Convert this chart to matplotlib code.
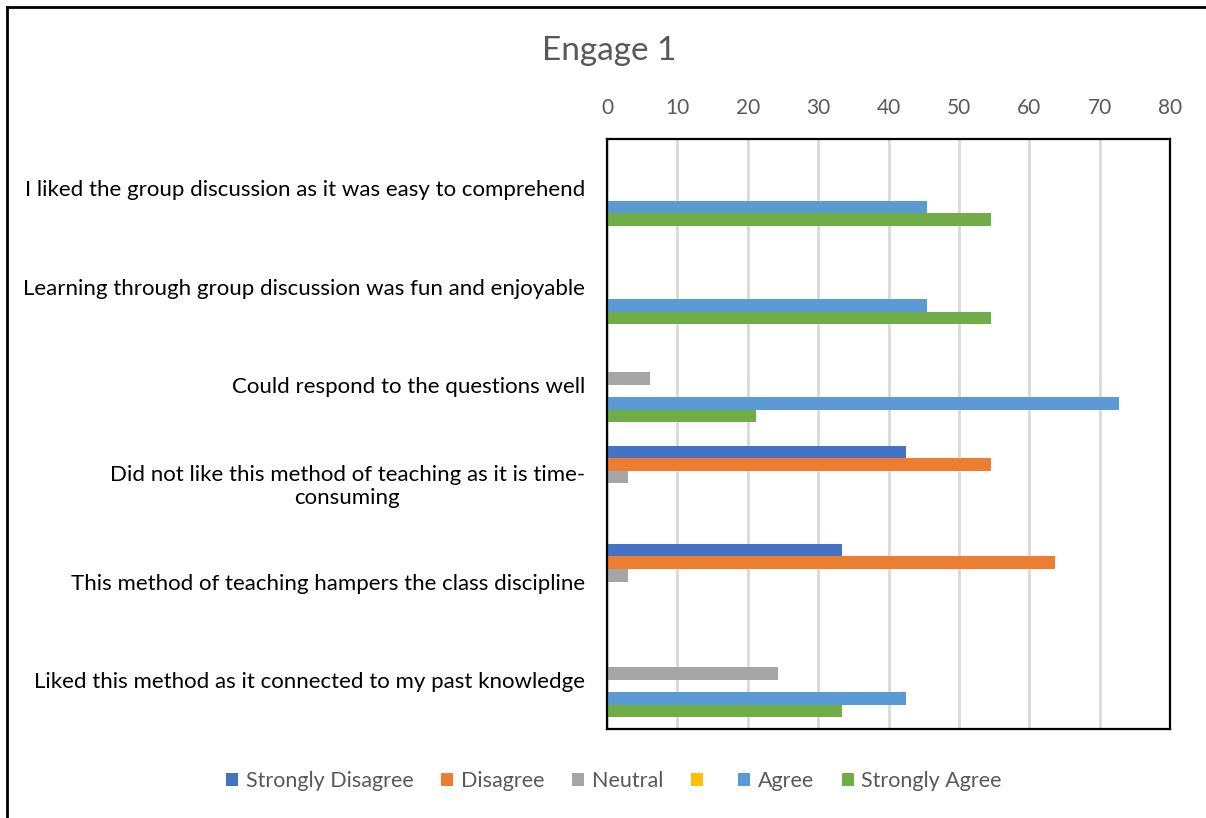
import matplotlib
matplotlib.use("Agg")
import matplotlib.pyplot as plt
from matplotlib.lines import Line2D
from matplotlib.patches import Patch
import numpy as np

plt.rcParams['font.family'] = ['Lato', 'DejaVu Sans']

categories = [
    "I liked the group discussion as it was easy to comprehend",
    "Learning through group discussion was fun and enjoyable",
    "Could respond to the questions well",
    "Did not like this method of teaching as it is time-\nconsuming",
    "This method of teaching hampers the class discipline",
    "Liked this method as it connected to my past knowledge",
]
series_names = ["Strongly Disagree", "Disagree", "Neutral", "", "Agree", "Strongly Agree"]
strongly_disagree = [0, 0, 0, 42.42, 33.33, 0]
disagree = [0, 0, 0, 54.55, 63.64, 0]
neutral = [0, 0, 6.06, 3.03, 3.03, 24.24]
unlabeled = [0, 0, 0, 0, 0, 0]
agree = [45.45, 45.45, 72.73, 0, 0, 42.42]
strongly_agree = [54.55, 54.55, 21.21, 0, 0, 33.33]
x_ticks = [0, 10, 20, 30, 40, 50, 60, 70, 80]

series = [strongly_disagree, disagree, neutral, unlabeled, agree, strongly_agree]
colors = ["#4472C4", "#ED7D31", "#A5A5A5", "#FFC000", "#5B9BD5", "#70AD47"]

W, H = 1206, 818
fig = plt.figure(figsize=(W / 100, H / 100), dpi=100)
ax = fig.add_axes([607 / W, (H - 729) / H, 563 / W, 590 / H])

n_series = len(series)
bar_h = 0.763 / n_series
ypos = np.arange(len(categories))
handles = []
for j, (vals, col) in enumerate(zip(series, colors)):
    offs = ypos + (j - (n_series - 1) / 2) * bar_h
    ax.barh(offs, vals, height=bar_h, color=col, linewidth=0, zorder=3)
    handles.append(Patch(facecolor=col, edgecolor='none'))

ax.set_xlim(0, 80)
ax.set_ylim(len(categories) - 0.5, -0.5)
ax.set_xticks(x_ticks)
ax.xaxis.tick_top()
ax.tick_params(axis='x', length=0, pad=15, labelsize=15, labelcolor='#595959')
ax.set_yticks(ypos)
ax.set_yticklabels(categories, fontsize=16, color='black', multialignment='center')
ax.tick_params(axis='y', length=0, pad=16)
ax.grid(axis='x', color='#D9D9D9', linewidth=2, zorder=0)
for sp in ax.spines.values():
    sp.set_color('black')
    sp.set_linewidth(1.6)
    sp.set_zorder(5)

fig.text(609 / W, 1 - 51 / H, "Engage 1", ha='center', va='center', fontsize=24, color='#595959')

fig.legend(handles, series_names, loc='center', bbox_to_anchor=(614 / W, 1 - 781 / H),
           ncol=6, frameon=False, fontsize=15.5, labelcolor='#595959',
           handlelength=0.55, handleheight=0.55, handletextpad=0.37, columnspacing=1.28)

# outer frame (top and left edges)
fig.add_artist(Line2D([7 / W, 1], [1 - 7 / H, 1 - 7 / H], color='black', linewidth=2))
fig.add_artist(Line2D([7 / W, 7 / W], [0, 1 - 7 / H], color='black', linewidth=2))

fig.savefig("out.png", dpi=100, facecolor='white')
